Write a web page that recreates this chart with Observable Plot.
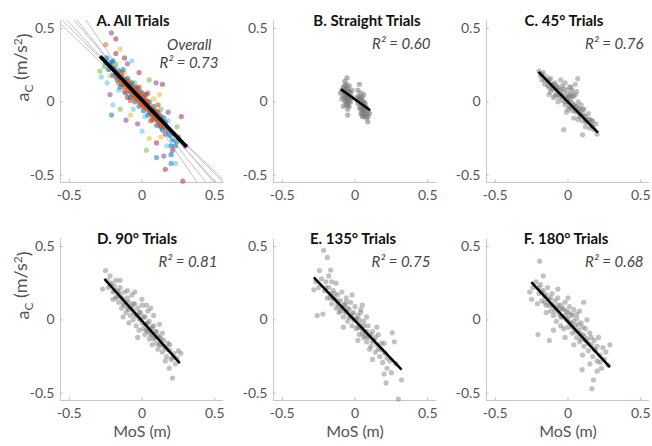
<!DOCTYPE html>
<html><head><meta charset="utf-8">
<script src="https://cdn.jsdelivr.net/npm/d3@7"></script>
<script src="https://cdn.jsdelivr.net/npm/@observablehq/plot@0.6"></script>
<style>
body{margin:0;background:#fff;}
#chart{position:relative;width:652px;height:446px;overflow:hidden;font-family:Lato,sans-serif;}
#chart svg{position:absolute;}
</style>
</head><body><div id="chart"></div>
<script>
const xTicks = [-0.5, 0, 0.5];
const yTicks = [-0.5, 0, 0.5];
const panelTitles = ["A. All Trials", "B. Straight Trials", "C. 45° Trials", "D. 90° Trials", "E. 135° Trials", "F. 180° Trials"];
const r2Labels = ["R² = 0.73", "R² = 0.60", "R² = 0.76", "R² = 0.81", "R² = 0.75", "R² = 0.68"];
const overallLabel = "Overall";
const xLabel = "MoS (m)";
const yLabel = "aC (m/s²)";
// black fit lines: x1, y1, x2, y2
const fitA = [-0.288, 0.311, 0.306, -0.306];
const fitB = [-0.097, 0.086, 0.104, -0.057];
const fitC = [-0.203, 0.204, 0.206, -0.209];
const fitD = [-0.258, 0.279, 0.26, -0.295];
const fitE = [-0.283, 0.29, 0.32, -0.34];
const fitF = [-0.252, 0.257, 0.288, -0.322];
// thin grey lines in panel A (slope, intercept)
const graySlopes = [-0.95, -1.0, -1.08, -1.15, -1.25, -1.45];
const grayIntercepts = [0.0, 0.01, 0.0, 0.02, 0.0, 0.0];
const matlabColors = ["#0072BD", "#D95319", "#EDB120", "#7E2F8E", "#77AC30", "#4DBEEE", "#A2142F"];

// Panel A points: [MoS, aC, group]
const ptsAOuter = [[-0.21,0.47,3],[-0.18,0.43,6],[-0.25,0.39,1],[-0.29,0.21,4],[-0.28,0.17,5],[-0.21,-0.09,0],[-0.11,-0.125,3],[-0.03,-0.15,3],[0.096,0.13,3],[0.14,0.12,6],[0.27,-0.1,6],[0.13,-0.24,2],[0.21,-0.33,6],[0.16,-0.46,6],[0.28,-0.54,6],[0.23,-0.42,5],[0.2,-0.42,0],[0.1,-0.38,0],[0.1,-0.28,6],[0.03,-0.33,4],[-0.27,0.3,2],[-0.26,0.24,4],[-0.24,0.13,5],[-0.22,0.05,3],[-0.18,0.33,6],[-0.15,0.36,2],[-0.12,0.3,6],[-0.1,0.26,3],[-0.2,-0.02,5],[-0.15,-0.05,4],[-0.08,-0.09,2],[0.0,-0.2,5],[0.05,-0.25,2],[0.17,-0.3,5],[0.25,-0.24,6],[0.24,-0.17,4],[0.18,-0.07,3],[0.12,0.05,2],[0.05,0.15,4],[-0.02,0.2,6],[-0.07,0.28,5],[0.3,-0.3,3],[0.15,-0.37,3],[-0.06,-0.05,5],[0.2,-0.2,2],
[-0.22,0.18,2],[-0.18,0.26,4],[-0.16,0.08,5],[-0.12,0.2,2],[-0.05,0.13,4],[0.02,-0.1,5],[0.08,0.02,2],[0.13,-0.05,4],[0.16,-0.22,3],[-0.1,0.03,6],[0.04,0.06,3],[0.18,-0.13,5]];
const ptsABlue = [[-0.25,0.27],[-0.23,0.22],[-0.21,0.27],[-0.2,0.18],[-0.19,0.23],[-0.17,0.15],[-0.16,0.21],[-0.15,0.1],[-0.14,0.17],[-0.13,0.22],[-0.12,0.12],[-0.11,0.06],[-0.1,0.16],[-0.09,0.1],[-0.08,0.03],[-0.07,0.13],[-0.06,0.07],[-0.05,0.0],[-0.04,0.1],[-0.03,0.04],[-0.02,-0.03],[-0.01,0.07],[0.0,0.01],[0.01,-0.06],[0.02,0.05],[0.03,-0.02],[0.04,-0.09],[0.05,0.0],[0.06,-0.06],[0.07,-0.12],[0.08,-0.03],[0.09,-0.1],[0.1,-0.16],[0.11,-0.07],[0.12,-0.13],[0.14,-0.19],[0.15,-0.11],[0.17,-0.17],[0.19,-0.23],[0.21,-0.26],[0.23,-0.3],[0.2,-0.36],
[-0.22,0.25],[-0.18,0.2],[-0.16,0.17],[-0.14,0.12],[-0.12,0.15],[-0.1,0.12],[-0.08,0.12],[-0.07,0.05],[-0.05,0.05],[-0.03,0.09],[-0.01,0.02],[0.01,0.03],[0.02,-0.01],[0.04,-0.03],[0.05,-0.07],[0.07,-0.08],[0.08,-0.06],[0.1,-0.09],[0.11,-0.12],[0.13,-0.1],[0.13,-0.17],[0.16,-0.14],[0.18,-0.2],[0.22,-0.22],[-0.24,0.3],[-0.2,0.28],[0.2,-0.3],[0.24,-0.27]];
const ptsAOrange = [[-0.2,0.23],[-0.17,0.19],[-0.15,0.15],[-0.14,0.2],[-0.13,0.12],[-0.11,0.15],[-0.1,0.1],[-0.09,0.14],[-0.08,0.07],[-0.07,0.1],[-0.06,0.04],[-0.05,0.08],[-0.04,0.02],[-0.03,0.07],[-0.02,0.0],[-0.01,0.04],[0.0,-0.02],[0.01,0.02],[0.02,-0.04],[0.03,0.01],[0.04,-0.05],[0.05,-0.02],[0.06,-0.08],[0.07,-0.05],[0.08,-0.1],[0.09,-0.06],[0.1,-0.11],[0.12,-0.09],[0.13,-0.15],[0.15,-0.16],[-0.12,0.07],[0.0,0.06],[0.11,-0.02],[0.06,-0.13],[-0.16,0.13],
[-0.18,0.17],[-0.16,0.18],[-0.12,0.1],[-0.1,0.13],[-0.09,0.08],[-0.07,0.07],[-0.06,0.1],[-0.05,0.03],[-0.04,0.06],[-0.03,0.02],[-0.02,0.05],[-0.01,-0.01],[0.01,-0.03],[0.02,0.01],[0.03,-0.04],[0.04,0.0],[0.05,-0.05],[0.07,-0.09],[0.08,-0.07],[0.09,-0.12],[0.1,-0.07],[0.11,-0.13],[0.12,-0.16],[0.14,-0.13],[0.16,-0.18],[-0.08,0.01],[0.03,0.05],[-0.02,0.1]];

const ptsB = [[-0.055,0.163],[-0.07,0.14],[-0.08,0.10],[-0.09,0.08],[-0.06,0.09],[-0.04,0.11],[-0.05,0.07],[-0.07,0.06],[-0.03,0.06],[-0.08,0.04],[-0.06,0.03],[-0.04,0.04],[-0.02,0.03],[-0.09,0.02],[-0.05,0.01],[-0.07,0.0],[-0.03,0.0],[-0.06,-0.02],[-0.04,-0.03],[-0.08,-0.03],[-0.05,-0.05],[-0.05,-0.09],[-0.02,0.08],[-0.1,0.06],[-0.06,0.12],
[0.03,0.12],[0.02,0.08],[0.04,0.06],[0.02,0.04],[0.05,0.03],[0.03,0.01],[0.06,0.0],[0.04,-0.02],[0.07,-0.03],[0.05,-0.05],[0.08,-0.04],[0.06,-0.07],[0.09,-0.06],[0.07,-0.09],[0.04,-0.08],[0.08,-0.11],[0.088,-0.136],[0.1,-0.08],[0.01,0.02],[0.03,-0.04],[0.06,0.05],[0.09,-0.1],[0.05,-0.1],[0.02,-0.01],
[-0.07,0.08],[-0.06,0.05],[-0.05,0.03],[-0.04,0.07],[-0.06,0.01],[-0.07,0.03],[-0.05,-0.02],[-0.08,0.07],[-0.04,0.0],[-0.03,0.03],[-0.07,0.11],[-0.05,0.09],
[0.04,0.02],[0.05,-0.01],[0.06,-0.03],[0.04,-0.05],[0.07,-0.06],[0.05,-0.08],[0.06,-0.1],[0.08,-0.08],[0.03,0.03],[0.07,-0.01],[0.05,0.0],[0.06,-0.05]];

const ptsC = [[-0.2,0.21],[-0.19,0.18],[-0.17,0.2],[-0.18,0.15],[-0.15,0.17],[-0.16,0.12],[-0.14,0.14],[-0.13,0.1],[-0.12,0.16],[-0.11,0.12],[-0.12,0.07],[-0.1,0.09],[-0.09,0.13],[-0.08,0.06],[-0.09,0.04],[-0.07,0.1],[-0.06,0.08],[-0.06,0.03],[-0.05,0.05],[-0.04,0.11],[-0.04,0.01],[-0.03,0.06],[-0.02,0.03],[-0.02,-0.02],[-0.01,0.08],[0.0,0.0],[0.0,0.05],[0.01,-0.03],[0.02,0.02],[0.02,0.1],[0.03,-0.01],[0.03,-0.06],[0.04,0.04],[0.05,-0.03],[0.05,0.12],[0.067,0.158],[0.06,-0.07],[0.07,0.0],[0.08,-0.05],[0.08,-0.1],[0.09,-0.02],[0.1,-0.08],[0.1,-0.13],[0.11,-0.05],[0.12,-0.1],[0.13,-0.14],[0.14,-0.08],[0.15,-0.12],[0.16,-0.16],[0.17,-0.13],[0.18,-0.19],[0.19,-0.15],[0.2,-0.22],[0.12,-0.17],[0.1,-0.225],[-0.03,-0.19],[-0.01,-0.07],[0.04,-0.11],[-0.07,0.0],[-0.1,0.03],[0.06,0.07],[-0.05,0.15],[0.0,-0.05],[0.02,0.06],[-0.08,0.09],[0.07,-0.12],[-0.13,0.05],[0.15,-0.18],[0.01,0.04],[-0.02,0.0],
[-0.18,0.19],[-0.16,0.15],[-0.14,0.11],[-0.13,0.15],[-0.11,0.09],[-0.1,0.12],[-0.08,0.11],[-0.07,0.05],[-0.05,0.08],[-0.04,0.04],[-0.03,0.09],[-0.01,0.02],[0.0,0.03],[0.01,0.0],[0.02,-0.04],[0.03,0.04],[0.04,-0.02],[0.05,-0.06],[0.06,-0.03],[0.07,-0.05],[0.08,-0.07],[0.09,-0.09],[0.1,-0.05],[0.11,-0.1],[0.12,-0.13],[0.14,-0.12],[0.16,-0.13],[0.17,-0.17],[0.03,0.08],[0.05,0.05],[-0.02,0.13],[0.01,0.1]];

const ptsD = [[-0.25,0.336],[-0.27,0.21],[-0.24,0.27],[-0.22,0.3],[-0.23,0.22],[-0.21,0.25],[-0.2,0.19],[-0.19,0.23],[-0.18,0.27],[-0.18,0.15],[-0.17,0.2],[-0.16,0.12],[-0.15,0.22],[-0.15,0.17],[-0.14,0.08],[-0.13,0.14],[-0.12,0.19],[-0.12,0.1],[-0.11,0.05],[-0.1,0.15],[-0.1,0.08],[-0.09,0.12],[-0.08,0.03],[-0.08,0.09],[-0.07,0.17],[-0.06,0.06],[-0.06,0.0],[-0.05,0.11],[-0.04,0.03],[-0.04,-0.04],[-0.03,0.08],[-0.02,0.01],[-0.02,-0.07],[-0.01,0.05],[0.0,-0.02],[0.0,0.1],[0.01,-0.06],[0.02,0.02],[0.02,-0.1],[0.03,-0.03],[0.04,0.06],[0.04,-0.08],[0.05,-0.13],[0.05,-0.01],[0.06,-0.06],[0.07,-0.1],[0.07,-0.17],[0.08,-0.04],[0.09,-0.12],[0.1,-0.08],[0.1,-0.16],[0.11,-0.2],[0.12,-0.12],[0.13,-0.17],[0.14,-0.09],[0.14,-0.22],[0.15,-0.14],[0.16,-0.19],[0.17,-0.25],[0.18,-0.16],[0.19,-0.21],[0.2,-0.27],[0.187,-0.33],[0.21,-0.397],[0.22,-0.23],[0.24,-0.26],[0.25,-0.21],[0.267,-0.228],[-0.2,0.14],[-0.13,0.02],[0.08,0.03],[-0.05,0.19],[0.12,-0.03],[-0.15,0.27],[0.0,0.14],[-0.09,-0.02],[0.06,0.08],[0.23,-0.3],[-0.03,-0.12],[0.16,-0.28],
[-0.22,0.24],[-0.19,0.2],[-0.17,0.16],[-0.16,0.19],[-0.14,0.15],[-0.13,0.11],[-0.11,0.12],[-0.09,0.07],[-0.07,0.08],[-0.06,0.11],[-0.05,0.04],[-0.03,0.03],[-0.02,0.05],[-0.01,0.0],[0.01,0.02],[0.02,-0.03],[0.03,-0.07],[0.04,-0.02],[0.05,-0.07],[0.06,-0.1],[0.07,-0.05],[0.08,-0.13],[0.09,-0.08],[0.11,-0.11],[0.12,-0.17],[0.13,-0.13],[0.15,-0.18],[0.17,-0.2],[0.19,-0.17],[0.21,-0.26],[-0.1,0.2],[0.03,0.1]];

const ptsE = [[-0.216,0.475],[-0.19,0.426],[-0.244,0.336],[-0.167,0.34],[-0.283,0.205],[-0.26,0.03],[-0.22,0.04],[-0.27,0.26],[-0.25,0.22],[-0.23,0.28],[-0.21,0.2],[-0.2,0.26],[-0.19,0.15],[-0.18,0.22],[-0.17,0.18],[-0.16,0.11],[-0.15,0.2],[-0.14,0.14],[-0.13,0.08],[-0.12,0.17],[-0.12,0.11],[-0.11,0.05],[-0.1,0.13],[-0.09,0.08],[-0.09,0.19],[-0.08,0.02],[-0.07,0.1],[-0.06,0.05],[-0.06,0.15],[-0.05,-0.01],[-0.04,0.07],[-0.03,0.02],[-0.03,0.12],[-0.02,-0.04],[-0.01,0.05],[0.0,0.0],[0.0,0.09],[0.01,-0.06],[0.02,0.03],[0.03,-0.03],[0.03,-0.1],[0.04,0.05],[0.05,-0.06],[0.06,-0.01],[0.06,-0.12],[0.07,-0.08],[0.08,-0.15],[0.09,-0.04],[0.1,-0.11],[0.11,-0.18],[0.12,-0.08],[0.13,-0.14],[0.14,-0.22],[0.15,-0.17],[0.16,-0.1],[0.17,-0.25],[0.18,-0.2],[0.19,-0.29],[0.2,-0.16],[0.21,-0.23],[0.214,-0.43],[0.22,-0.33],[0.24,-0.28],[0.256,-0.088],[0.27,-0.15],[0.28,-0.3],[0.32,-0.41],[0.298,-0.54],[0.25,-0.36],[0.05,0.1],[-0.13,0.25],[0.1,-0.2],[-0.08,-0.05],[0.15,-0.05],[0.02,-0.14],[0.2,-0.37],[-0.02,0.17],[0.12,-0.27],[-0.18,0.3],[0.08,0.02],
[-0.2,0.22],[-0.17,0.15],[-0.15,0.15],[-0.14,0.18],[-0.12,0.13],[-0.11,0.09],[-0.1,0.06],[-0.08,0.1],[-0.07,0.06],[-0.05,0.08],[-0.04,0.02],[-0.02,0.04],[-0.01,0.0],[0.01,0.01],[0.02,-0.05],[0.03,0.0],[0.04,-0.05],[0.05,-0.09],[0.06,-0.04],[0.07,-0.11],[0.08,-0.08],[0.09,-0.12],[0.11,-0.1],[0.12,-0.15],[0.14,-0.12],[0.16,-0.2],[0.18,-0.16],[0.2,-0.22],[0.22,-0.26],[-0.06,0.12],[0.04,0.07],[-0.16,0.26]];

const ptsF = [[-0.195,0.4],[-0.263,0.19],[-0.206,-0.1],[-0.128,-0.14],[0.108,0.12],[0.288,-0.17],[0.175,-0.41],[0.164,-0.47],[0.097,-0.34],[0.276,-0.31],[-0.24,0.22],[-0.22,0.26],[-0.2,0.18],[-0.19,0.24],[-0.18,0.13],[-0.17,0.2],[-0.16,0.16],[-0.15,0.1],[-0.14,0.22],[-0.13,0.14],[-0.12,0.06],[-0.11,0.18],[-0.11,0.1],[-0.1,0.03],[-0.09,0.13],[-0.08,0.08],[-0.08,-0.01],[-0.07,0.15],[-0.06,0.04],[-0.05,0.1],[-0.05,-0.04],[-0.04,0.02],[-0.03,0.07],[-0.03,-0.06],[-0.02,0.12],[-0.01,0.0],[0.0,0.05],[0.0,-0.05],[0.01,0.09],[0.02,-0.02],[0.03,0.03],[0.03,-0.09],[0.04,0.07],[0.05,-0.04],[0.06,0.01],[0.06,-0.12],[0.07,-0.07],[0.08,-0.15],[0.09,-0.02],[0.1,-0.1],[0.11,-0.18],[0.12,-0.06],[0.13,-0.13],[0.14,-0.21],[0.15,-0.09],[0.16,-0.17],[0.17,-0.25],[0.18,-0.14],[0.19,-0.21],[0.2,-0.28],[0.21,-0.12],[0.22,-0.24],[0.24,-0.19],[0.25,-0.27],[-0.15,0.05],[-0.07,0.21],[0.04,-0.17],[0.13,0.0],[-0.1,-0.07],[0.2,-0.35],[-0.21,0.11],[-0.02,-0.12],[0.08,0.06],[0.15,-0.3],[0.23,-0.33],[-0.17,0.3],[0.0,0.15],[0.26,-0.22],[-0.25,0.14],[0.1,-0.24],
[-0.2,0.22],[-0.18,0.19],[-0.16,0.12],[-0.15,0.17],[-0.13,0.1],[-0.12,0.15],[-0.1,0.09],[-0.09,0.06],[-0.07,0.1],[-0.06,0.07],[-0.05,0.02],[-0.04,0.08],[-0.02,0.03],[-0.01,0.06],[0.0,0.01],[0.01,-0.02],[0.02,0.04],[0.03,-0.05],[0.04,-0.01],[0.05,-0.08],[0.07,-0.03],[0.08,-0.09],[0.09,-0.13],[0.1,-0.05],[0.11,-0.11],[0.12,-0.14],[0.14,-0.16],[0.16,-0.12],[0.18,-0.2],[0.2,-0.18],[0.22,-0.29],[0.06,0.04]];

const grayPts = [null, ptsB, ptsC, ptsD, ptsE, ptsF];
const fits = [fitA, fitB, fitC, fitD, fitE, fitF];
const titleDx = [-9, 12, -4, -5, -2, -2];

const frameLefts = [60, 273, 486];
const frameTops = [20, 238];
const FW = 163, FH = 162, ML = 60, MR = 4, MT = 20, MB = 46;
const XD = [-0.56, 0.56], YD = [-0.55, 0.555];
const axisColor = "#c8c8c8", textColor = "#555";
const fmt = d => String(d);

function makePanel(i) {
  const col = i % 3, row = Math.floor(i / 3);
  const marks = [];
  marks.push(Plot.ruleX([XD[0]], {stroke: axisColor, strokeWidth: 1}));
  marks.push(Plot.ruleY([YD[0]], {stroke: axisColor, strokeWidth: 1}));
  marks.push(Plot.ruleX(xTicks, {x: d => d, y1: YD[0], y2: YD[0] + 0.018, stroke: "#bbb"}));
  marks.push(Plot.ruleY(yTicks, {y: d => d, x1: XD[0], x2: XD[0] + 0.018, stroke: "#bbb"}));
  marks.push(Plot.axisX({ticks: xTicks, tickSize: 0, tickPadding: 8, tickFormat: fmt, fontSize: 14, color: textColor, label: null}));
  marks.push(Plot.axisY({ticks: yTicks, tickSize: 0, tickPadding: 6, tickFormat: fmt, fontSize: 14, color: textColor, label: null}));
  if (i === 0) {
    const grays = graySlopes.map((m, k) => ({x1: -0.8, y1: grayIntercepts[k] - 0.8 * m, x2: 0.8, y2: grayIntercepts[k] + 0.8 * m}));
    marks.push(Plot.link(grays, {x1: "x1", y1: "y1", x2: "x2", y2: "y2", stroke: "#c4c4c4", strokeWidth: 1, clip: true}));
    marks.push(Plot.dot(ptsAOuter, {x: d => d[0], y: d => d[1], r: 2.6, fill: d => matlabColors[d[2]], fillOpacity: 0.5, stroke: "none"}));
    marks.push(Plot.dot(ptsABlue, {x: d => d[0], y: d => d[1], r: 2.6, fill: matlabColors[0], fillOpacity: 0.55, stroke: "none"}));
    marks.push(Plot.dot(ptsAOrange, {x: d => d[0], y: d => d[1], r: 2.6, fill: matlabColors[1], fillOpacity: 0.6, stroke: "none"}));
  } else {
    marks.push(Plot.dot(grayPts[i], {x: d => d[0], y: d => d[1], r: 2.6, fill: "#767676", fillOpacity: i === 1 ? 0.55 : 0.45, stroke: "none"}));
  }
  const f = fits[i];
  marks.push(Plot.link([f], {x1: d => d[0], y1: d => d[1], x2: d => d[2], y2: d => d[3], stroke: "#000", strokeWidth: i === 0 ? 3.8 : 2.5}));
  marks.push(Plot.text([panelTitles[i]], {text: d => d, frameAnchor: "top", dy: -5, dx: titleDx[i], fontSize: 15, fontWeight: "bold", fill: "#111"}));
  if (i === 0) {
    marks.push(Plot.text([overallLabel], {text: d => d, frameAnchor: "top-right", textAnchor: "end", dx: -12, dy: 19, fontSize: 15, fontStyle: "italic", fill: "#444"}));
    marks.push(Plot.text([r2Labels[i]], {text: d => d, frameAnchor: "top-right", textAnchor: "end", dx: -5, dy: 37, fontSize: 15, fontStyle: "italic", fill: "#444"}));
  } else {
    marks.push(Plot.text([r2Labels[i]], {text: d => d, frameAnchor: "top-right", textAnchor: "end", dx: -6, dy: 18, fontSize: 15, fontStyle: "italic", fill: "#444"}));
  }
  if (col === 0) {
    marks.push(Plot.text([yLabel], {text: d => d, frameAnchor: "left", dx: -37, rotate: -90, fontSize: 18, fill: textColor}));
  }
  if (row === 1) {
    marks.push(Plot.text([xLabel], {text: d => d, frameAnchor: "bottom", dy: 36, fontSize: 16, fill: textColor}));
  }
  const svg = Plot.plot({
    width: ML + FW + MR, height: MT + FH + MB,
    marginLeft: ML, marginRight: MR, marginTop: MT, marginBottom: MB,
    x: {domain: XD}, y: {domain: YD},
    style: {background: "transparent", fontFamily: "Lato, sans-serif", overflow: "visible"},
    marks
  });
  svg.style.left = (frameLefts[col] - ML) + "px";
  svg.style.top = (frameTops[row] - MT) + "px";
  d3.select(svg).selectAll("text").each(function() {
    if (this.textContent === yLabel) {
      const t = d3.select(this);
      t.text(null);
      t.append("tspan").text("a");
      t.append("tspan").attr("dy", "0.3em").attr("font-size", "12px").text("C");
      t.append("tspan").attr("dy", "-0.3em").text(" (m/s");
      t.append("tspan").attr("dy", "-0.45em").attr("font-size", "12px").text("2");
      t.append("tspan").attr("dy", "0.45em").text(")");
    }
  });
  return svg;
}
const chart = document.getElementById("chart");
for (let i = 0; i < 6; i++) chart.appendChild(makePanel(i));
</script>
</body></html>
